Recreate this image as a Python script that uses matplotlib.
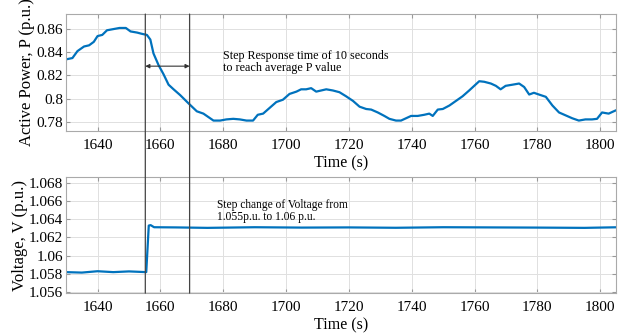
import matplotlib.pyplot as plt
from matplotlib.patches import ConnectionPatch

plt.rcParams['font.family'] = ['Liberation Serif', 'DejaVu Serif']

# active power trace (time s, P p.u.)
t_p = [1630.2, 1632, 1633.6, 1635.7, 1637.3, 1638.8, 1640, 1641.5, 1643, 1645,
       1647, 1649, 1650.5, 1652.6, 1654, 1655.7, 1656.8, 1657.8, 1659.4, 1661,
       1662.6, 1664.2, 1666.3, 1668.9, 1671.6, 1673.7, 1675.3, 1676.9, 1679, 1681,
       1683.2, 1685.3, 1687.4, 1689.5, 1691, 1692.7, 1694.8, 1696.9, 1699, 1701.1,
       1703.3, 1704.8, 1706.4, 1708, 1709.6, 1711.2, 1712.8, 1714.9, 1717, 1719.1,
       1721.3, 1723.4, 1725.5, 1727.1, 1729.2, 1731.3, 1732.9, 1735, 1736.6, 1738.2,
       1739.8, 1741.9, 1744, 1745.6, 1746.7, 1748.3, 1749.9, 1752, 1754.1, 1756.2,
       1758.3, 1759.9, 1761.5, 1763.1, 1765.2, 1766.8, 1768.3, 1769.9, 1772.1, 1774.2,
       1775.8, 1777.4, 1778.9, 1780.5, 1782.7, 1784.8, 1786.9, 1789, 1791.1, 1793.2,
       1795.3, 1797.4, 1799, 1800.6, 1802.7, 1804.3, 1806]
p = [0.834, 0.835, 0.841, 0.845, 0.846, 0.849, 0.854, 0.855, 0.859, 0.860,
     0.861, 0.861, 0.858, 0.857, 0.856, 0.855, 0.851, 0.839, 0.829, 0.821,
     0.812, 0.808, 0.803, 0.796, 0.789, 0.787, 0.784, 0.781, 0.781, 0.782,
     0.7825, 0.782, 0.781, 0.781, 0.786, 0.787, 0.792, 0.797, 0.799, 0.804,
     0.806, 0.808, 0.808, 0.809, 0.806, 0.807, 0.808, 0.807, 0.8055, 0.802,
     0.798, 0.793, 0.791, 0.7905, 0.788, 0.785, 0.7825, 0.781, 0.781, 0.783,
     0.785, 0.785, 0.786, 0.787, 0.785, 0.7905, 0.791, 0.794, 0.798, 0.802,
     0.807, 0.811, 0.815, 0.8145, 0.813, 0.811, 0.808, 0.811, 0.812, 0.813,
     0.810, 0.8035, 0.805, 0.8035, 0.8015, 0.794, 0.788, 0.7855, 0.783, 0.781,
     0.782, 0.782, 0.7825, 0.788, 0.787, 0.789, 0.791]

# voltage trace (time s, V p.u.)
t_v = [1630, 1635, 1640, 1645, 1650, 1655.5, 1656.3, 1656.9, 1658, 1665, 1675,
       1690, 1705, 1720, 1735, 1750, 1765, 1780, 1795, 1806]
v = [1.05820, 1.05815, 1.05830, 1.05820, 1.05828, 1.05820, 1.06330, 1.06335, 1.06312,
     1.06310, 1.06305, 1.06312, 1.06308, 1.06310, 1.06306, 1.06312, 1.06310, 1.06308,
     1.06305, 1.06312]

step_start = 1655.2
step_end = 1669.3
blue = '#0072BD'

fig = plt.figure(figsize=(6.24, 3.35), dpi=100)
ax1 = fig.add_axes([0.106, 0.609, 0.881, 0.349])
ax2 = fig.add_axes([0.106, 0.125, 0.881, 0.346])

for ax in (ax1, ax2):
    ax.grid(True, color='#e0e0e0', linewidth=0.7)
    ax.set_axisbelow(True)
    ax.tick_params(direction='in', top=True, right=True, length=3,
                   color='#999999', labelsize=11, pad=2)
    ax.tick_params(axis='x', pad=6)
    for s in ax.spines.values():
        s.set_color('#aaaaaa')
    ax.set_xlim(1630, 1805)
    ax.set_xticks([1640, 1660, 1680, 1700, 1720, 1740, 1760, 1780, 1800])
    ax.set_xlabel('Time (s)', fontsize=11.5, labelpad=2)

ax1.plot(t_p, p, color=blue, linewidth=1.6)
ax1.set_ylim(0.772, 0.873)
ax1.set_yticks([0.78, 0.80, 0.82, 0.84, 0.86])
ax1.set_yticklabels(['0.78', '0.8', '0.82', '0.84', '0.86'])
ax1.set_ylabel('Active Power, P (p.u.)', fontsize=12, labelpad=1)

ax2.plot(t_v, v, color=blue, linewidth=1.6)
ax2.set_ylim(1.0559, 1.0686)
ax2.set_yticks([1.056, 1.058, 1.06, 1.062, 1.064, 1.066, 1.068])
ax2.set_yticklabels(['1.056', '1.058', '1.06', '1.062', '1.064', '1.066', '1.068'])
ax2.set_ylabel('Voltage, V (p.u.)', fontsize=12, labelpad=1)

# vertical marker lines through both plots
for x in (step_start, step_end):
    con = ConnectionPatch(xyA=(x, 0.873), coordsA=ax1.transData,
                          xyB=(x, 1.0559), coordsB=ax2.transData,
                          color='#444444', linewidth=0.9)
    fig.add_artist(con)

ax1.annotate('', xy=(step_start, 0.828), xytext=(step_end, 0.828),
             arrowprops=dict(arrowstyle='<|-|>', color='#333333', lw=0.8,
                             mutation_scale=6, shrinkA=0, shrinkB=0))
ax1.text(1679.8, 0.8316, 'Step Response time of 10 seconds\nto reach average P value',
         fontsize=8.7, va='center', ha='left', linespacing=1.1)
ax2.text(1678, 1.06495, 'Step change of Voltage from\n1.055p.u. to 1.06 p.u.',
         fontsize=8.3, va='center', ha='left', linespacing=1.0)

plt.savefig('out.png', dpi=100)
